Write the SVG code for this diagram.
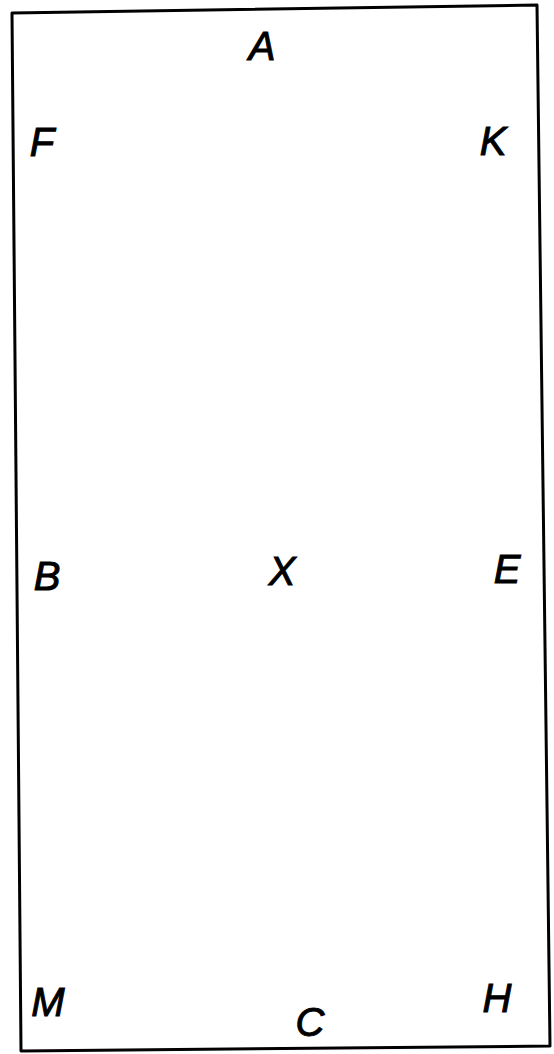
<svg xmlns="http://www.w3.org/2000/svg" width="554" height="1054" viewBox="0 0 554 1054">
<style>
.frame{fill:none;stroke:#000;stroke-width:3;stroke-linejoin:round}
.lbl{font-family:"Liberation Sans",Arial,sans-serif;font-style:italic;font-size:40px;fill:#000;stroke:#000;stroke-width:1;text-anchor:middle}
</style>
<rect width="554" height="1054" fill="#fff"/>
<g id="frame"><polygon class="frame" points="12,13 537,5 550,1046 21,1051"/></g>
<g id="node-A"><text class="lbl" x="262" y="60">A</text></g>
<g id="node-F"><text class="lbl" x="42" y="156">F</text></g>
<g id="node-K"><text class="lbl" x="493" y="155">K</text></g>
<g id="node-B"><text class="lbl" x="47" y="590">B</text></g>
<g id="node-X"><text class="lbl" x="282" y="585">X</text></g>
<g id="node-E"><text class="lbl" x="507" y="583">E</text></g>
<g id="node-M"><text class="lbl" x="48" y="1016">M</text></g>
<g id="node-H"><text class="lbl" x="497" y="1012">H</text></g>
<g id="node-C"><text class="lbl" x="310" y="1036">C</text></g>
<g id="connectors"></g>
</svg>
